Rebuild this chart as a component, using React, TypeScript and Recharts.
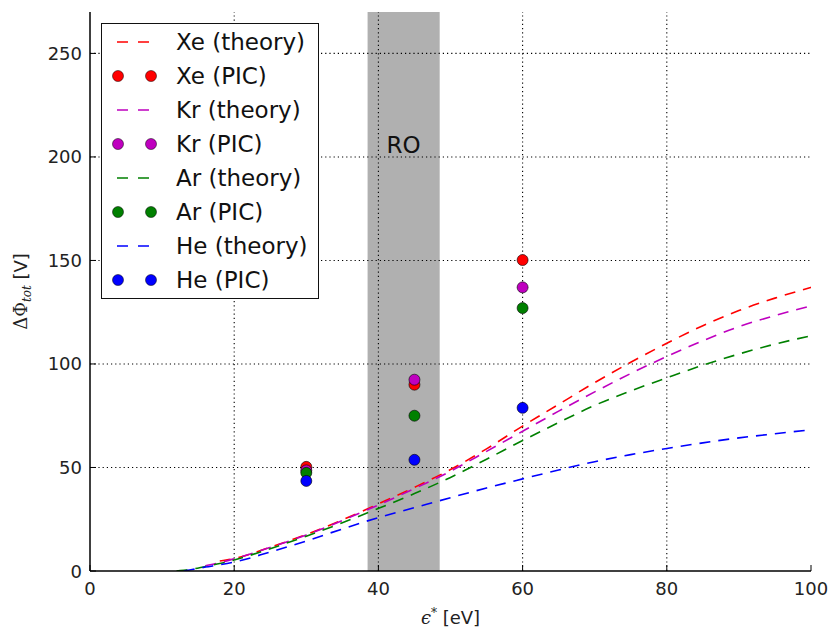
import React from 'react';
import {
  ComposedChart, Line, Scatter, XAxis, YAxis, ReferenceArea, ReferenceLine, Legend, Label,
} from 'recharts';

// ---- data ----
const theoryX = [12, 13, 14, 16, 18, 20, 25, 30, 35, 40, 45, 50, 55, 60, 65, 70, 75, 80, 85, 90, 95, 100];
const xeTheory = [null, null, null, null, 4.8, 6.0, 11.5, 17.6, 24.7, 32.4, 40.4, 49.0, 59.0, 70.0, 80.5, 91.0, 100.8, 110.0, 118.5, 125.8, 131.8, 137.0];
const krTheory = [null, null, null, 2.5, 4.0, 5.9, 11.4, 17.4, 24.4, 31.9, 39.8, 48.2, 57.8, 67.5, 77.2, 86.5, 95.4, 103.6, 111.2, 118.0, 123.4, 128.0];
const arTheory = [0, 0.4, 0.8, 2.2, 3.6, 5.3, 10.8, 16.8, 23.3, 30.2, 37.4, 45.2, 54.0, 63.0, 71.7, 80.0, 87.0, 93.3, 99.4, 104.8, 109.6, 113.6];
const heTheory = [null, 0, 0.6, 1.9, 3.0, 4.3, 9.2, 14.5, 20.3, 25.8, 30.6, 35.4, 40.1, 44.5, 48.8, 52.8, 56.2, 59.2, 61.9, 64.3, 66.3, 68.2];

const picX = [30, 45, 60];
const xePIC = [50.3, 90.0, 150.2];
const krPIC = [48.6, 92.4, 137.0];
const arPIC = [47.4, 75.0, 127.0];
const hePIC = [43.5, 53.7, 78.8];

const xTicks = [0, 20, 40, 60, 80, 100];
const yTicks = [0, 50, 100, 150, 200, 250];
const xGrid = [20, 40, 60, 80];
const yGrid = [50, 100, 150, 200, 250];
const roBand = [38.5, 48.5];
const roLabel = 'RO';

const gasNames = ['Xe', 'Kr', 'Ar', 'He'];
const gasColors = ['#ff0000', '#bf00bf', '#008000', '#0000ff'];
const theorySets = [xeTheory, krTheory, arTheory, heTheory];
const picSets = [xePIC, krPIC, arPIC, hePIC];

const FONT = '"DejaVu Sans", sans-serif';

const toPoints = (xs: number[], ys: (number | null)[]) =>
  xs.map((x, i) => ({ x, y: ys[i] })).filter((d) => d.y !== null);

// ---- ticks ----
const BottomTick = (props: any) => {
  const { x, y, payload } = props;
  return (
    <g>
      <line x1={x} x2={x} y1={y} y2={y - 6} stroke="#000" strokeWidth={1} />
      <text x={x} y={y + 24} textAnchor="middle" fontSize={18} fontFamily={FONT} fill="#222">
        {payload.value}
      </text>
    </g>
  );
};
const TopTick = (props: any) => {
  const { x, y } = props;
  return <line x1={x} x2={x} y1={y} y2={y + 6} stroke="#000" strokeWidth={1} />;
};
const LeftTick = (props: any) => {
  const { x, y, payload } = props;
  return (
    <g>
      <line x1={x} x2={x + 6} y1={y} y2={y} stroke="#000" strokeWidth={1} />
      <text x={x - 8} y={y + 6.5} textAnchor="end" fontSize={18} fontFamily={FONT} fill="#222">
        {payload.value}
      </text>
    </g>
  );
};
const RightTick = (props: any) => {
  const { x, y } = props;
  return <line x1={x} x2={x - 6} y1={y} y2={y} stroke="#000" strokeWidth={1} />;
};

const YLabel = (props: any) => {
  const vb = props.viewBox;
  const cx = 27;
  const cy = vb.y + vb.height / 2;
  return (
    <text transform={`translate(${cx},${cy}) rotate(-90)`} textAnchor="middle" fontSize={18} fill="#222">
      <tspan fontFamily='"DejaVu Serif", serif'>ΔΦ</tspan>
      <tspan fontFamily='"DejaVu Serif", serif' fontStyle="italic" fontSize={12} dy={4}>tot</tspan>
      <tspan fontFamily={FONT} dy={-4}>{'  [V]'}</tspan>
    </text>
  );
};

const XLabel = (props: any) => {
  const vb = props.viewBox;
  const cx = vb.x + vb.width / 2;
  return (
    <text x={cx} y={624} textAnchor="middle" fontSize={18} fill="#222">
      <tspan fontFamily='"DejaVu Serif", serif' fontStyle="italic">ϵ</tspan>
      <tspan fontFamily='"DejaVu Serif", serif' fontSize={12} dy={-7}>*</tspan>
      <tspan fontFamily={FONT} dy={7}>{' [eV]'}</tspan>
    </text>
  );
};

const LegendBox = () => {
  const rows: { label: string; color: string; kind: 'theory' | 'pic' }[] = [];
  gasNames.forEach((g, i) => {
    rows.push({ label: `${g} (theory)`, color: gasColors[i], kind: 'theory' });
    rows.push({ label: `${g} (PIC)`, color: gasColors[i], kind: 'pic' });
  });
  return (
    <div
      style={{
        width: 216,
        border: '1.5px solid #111',
        background: '#fff',
        padding: '1px 0',
        boxSizing: 'content-box',
      }}
    >
      {rows.map((r) => (
        <div key={r.label} style={{ height: 34, position: 'relative' }}>
          <svg width={60} height={34} style={{ position: 'absolute', left: 0, top: 0 }}>
            {r.kind === 'theory' ? (
              <line x1={15} x2={47} y1={17} y2={17} stroke={r.color} strokeWidth={1.5} strokeDasharray="11 10" />
            ) : (
              <g>
                <circle cx={16} cy={17} r={5.5} fill={r.color} stroke="#000" strokeWidth={0.5} />
                <circle cx={49} cy={17} r={5.5} fill={r.color} stroke="#000" strokeWidth={0.5} />
              </g>
            )}
          </svg>
          <span
            style={{
              position: 'absolute',
              left: 74,
              top: 3,
              fontFamily: FONT,
              fontSize: 23,
              lineHeight: '28px',
              color: '#111',
              whiteSpace: 'nowrap',
            }}
          >
            {r.label}
          </span>
        </div>
      ))}
    </div>
  );
};

const PicDot = (color: string) => (props: any) => (
  <circle cx={props.cx} cy={props.cy} r={5.5} fill={color} stroke="#000" strokeWidth={0.6} />
);

export default function App() {
  return (
    <div style={{ position: 'absolute', left: 0, top: 0, width: 833, height: 635, background: '#fff' }}>
      <ComposedChart width={833} height={635} margin={{ top: 12, right: 22, bottom: 34, left: 0 }}>
        <XAxis
          xAxisId="b"
          dataKey="x"
          type="number"
          domain={[0, 100]}
          allowDataOverflow
          ticks={xTicks}
          interval={0}
          tickSize={0}
          tickMargin={0}
          tick={<BottomTick />}
          tickLine={false}
          axisLine={{ stroke: '#000', strokeWidth: 1.5 }}
          height={30}
        >
          <Label content={<XLabel />} />
        </XAxis>
        <XAxis
          xAxisId="t"
          orientation="top"
          dataKey="x"
          type="number"
          domain={[0, 100]}
          allowDataOverflow
          ticks={xTicks}
          interval={0}
          tickSize={0}
          tickMargin={0}
          tick={<TopTick />}
          tickLine={false}
          axisLine={{ stroke: '#000', strokeWidth: 1.5 }}
          height={0}
        />
        <YAxis
          yAxisId="l"
          type="number"
          domain={[0, 270]}
          allowDataOverflow
          ticks={yTicks}
          interval={0}
          tickSize={0}
          tickMargin={0}
          tick={<LeftTick />}
          tickLine={false}
          axisLine={{ stroke: '#000', strokeWidth: 1.5 }}
          width={90}
        >
          <Label content={<YLabel />} />
        </YAxis>
        <YAxis
          yAxisId="r"
          orientation="right"
          type="number"
          domain={[0, 270]}
          allowDataOverflow
          ticks={yTicks}
          interval={0}
          tickSize={0}
          tickMargin={0}
          tick={<RightTick />}
          tickLine={false}
          axisLine={{ stroke: '#000', strokeWidth: 1.5 }}
          width={0}
        />

        <ReferenceArea
          xAxisId="b"
          yAxisId="l"
          x1={roBand[0]}
          x2={roBand[1]}
          y1={0}
          y2={270}
          fill="#000"
          fillOpacity={0.31}
          stroke="none"
          label={{ value: roLabel, position: 'insideTop', offset: 125, fontSize: 23, fill: '#111', fontFamily: FONT }}
        />
        {xGrid.map((v) => (
          <ReferenceLine key={`gx${v}`} xAxisId="b" yAxisId="l" x={v} stroke="#000" strokeDasharray="1.2 3" strokeWidth={1.1} />
        ))}
        {yGrid.map((v) => (
          <ReferenceLine key={`gy${v}`} xAxisId="b" yAxisId="l" y={v} stroke="#000" strokeDasharray="1.2 3" strokeWidth={1.1} />
        ))}

        {gasNames.map((g, i) => (
          <Line
            key={`t${g}`}
            xAxisId="b"
            yAxisId="l"
            data={toPoints(theoryX, theorySets[i])}
            dataKey="y"
            type="monotone"
            stroke={gasColors[i]}
            strokeWidth={1.6}
            strokeDasharray="11 8"
            dot={false}
            activeDot={false}
            isAnimationActive={false}
            name={`${g} (theory)`}
          />
        ))}
        {gasNames.map((g, i) => (
          <Scatter
            key={`p${g}`}
            xAxisId="b"
            yAxisId="l"
            data={toPoints(picX, picSets[i])}
            dataKey="y"
            fill={gasColors[i]}
            shape={PicDot(gasColors[i])}
            isAnimationActive={false}
            name={`${g} (PIC)`}
          />
        ))}
        <Legend
          layout="vertical"
          align="center"
          verticalAlign="middle"
          wrapperStyle={{ left: 101, top: 23, width: 'auto', height: 'auto' }}
          content={<LegendBox />}
        />
      </ComposedChart>
    </div>
  );
}
